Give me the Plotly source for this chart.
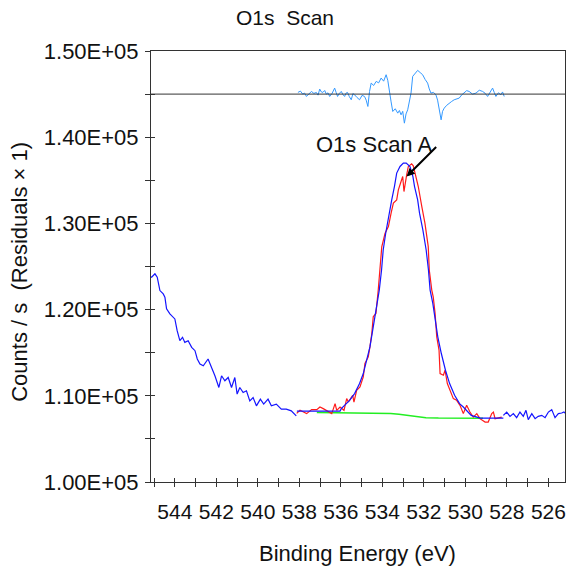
import plotly.graph_objects as go

# ---------------- data ----------------
# measured spectrum outside the fit region (binding energy eV, counts/s)
data_left_ev = [545.3, 545.12, 544.96, 544.85, 544.72, 544.56, 544.48, 544.40, 544.24, 544.00,
                543.89, 543.76, 543.63, 543.52, 543.36, 543.19, 543.03, 542.92, 542.79, 542.63,
                542.40, 542.23, 542.07, 541.88, 541.75, 541.59, 541.43, 541.27, 541.11, 541.00,
                540.87, 540.71, 540.55, 540.39, 540.23, 540.07, 539.88, 539.72, 539.51, 539.35,
                539.11, 538.87, 538.63, 538.39, 538.15]
data_left_cps = [124000, 123756, 124151, 123756, 122209, 121825, 121430, 120081, 119500, 118918,
                 117558, 116395, 116779, 116197, 116395, 115616, 115232, 114267, 113686, 113488,
                 114267, 113290, 112325, 110965, 112325, 111744, 112128, 110965, 112128, 110197,
                 110965, 110383, 110581, 109418, 109802, 108837, 109616, 109034, 109616, 108837,
                 109034, 108453, 108453, 108255, 107674]

data_right_ev = [528.17, 528.01, 527.85, 527.69, 527.53, 527.37, 527.21, 527.08, 526.97, 526.80,
                 526.64, 526.49, 526.32, 526.16, 526.00, 525.84, 525.68, 525.52, 525.36, 525.25, 525.10]
data_right_cps = [107732, 108116, 107616, 107930, 107465, 108116, 107616, 108314, 107232, 107930,
                  107348, 107616, 107732, 107465, 108116, 108395, 107465, 107930, 108000, 108116, 107800]

# fit envelope inside the region
env_ev = [538.12, 536.04, 535.98, 535.82, 535.58, 535.34, 535.10, 534.92, 534.76, 534.60,
          534.44, 534.28, 534.15, 534.04, 533.96, 533.84, 533.71, 533.55, 533.42, 533.31,
          533.15, 532.99, 532.85, 532.67, 532.53, 532.45, 532.30, 532.21, 532.05, 531.89,
          531.78, 531.70, 531.57, 531.45, 531.33, 531.16, 530.96, 530.76, 530.52, 530.28,
          530.10, 529.72, 529.29, 528.17]
env_cps = [108232, 108232, 108511, 108895, 109476, 110255, 111418, 112581, 114128, 115674,
           118000, 120325, 122267, 124593, 126918, 128860, 130791, 132732, 134279, 135837,
           136605, 137000, 137000, 136605, 135442, 134279, 132732, 131186, 129244, 126918,
           124593, 122267, 120720, 118779, 116837, 114907, 112965, 111418, 110058, 109093,
           108697, 107732, 107418, 107418]

# component "O1s Scan A"
comp_ev = [538.13, 537.97, 537.65, 537.41, 537.16, 537.01, 536.85, 536.61, 536.44, 536.28,
           536.20, 536.04, 535.85, 535.72, 535.64, 535.53, 535.43, 535.37, 535.24, 535.08,
           534.92, 534.84, 534.68, 534.60, 534.51, 534.44, 534.31, 534.20, 534.14, 534.03,
           533.87, 533.71, 533.58, 533.47, 533.31, 533.23, 533.10, 533.02, 532.96, 532.91,
           532.83, 532.75, 532.59, 532.51, 532.43, 532.27, 532.10, 531.95, 531.79, 531.74,
           531.62, 531.55, 531.46, 531.38, 531.27, 531.22, 531.06, 530.98, 530.87, 530.74,
           530.58, 530.42, 530.26, 530.10, 529.94, 529.78, 529.62, 529.45, 529.30, 529.05,
           528.90, 528.73, 528.65, 528.57, 528.41, 528.25]
comp_cps = [107965, 108314, 107930, 108395, 108395, 108697, 108511, 108116, 107930, 109093,
            108314, 108697, 108314, 109674, 109279, 109674, 110058, 109279, 110639, 111023,
            112186, 113744, 114511, 115674, 117232, 119163, 119558, 122267, 124360, 127267,
            128860, 129628, 131186, 132349, 132732, 133895, 134860, 135442, 133697, 134674,
            135639, 136605, 136918, 136686, 135837, 134279, 131953, 130023, 127302, 124593,
            122267, 121488, 119558, 116837, 115290, 112581, 112383, 112965, 111418, 110639,
            109674, 109476, 108895, 107930, 108895, 108116, 107534, 107930, 107348, 106953,
            106953, 107930, 108116, 107348, 107465, 107534]

# background
bg_ev = [537.16, 535.0, 534.2, 533.6, 533.2, 532.9, 532.6, 532.3, 531.9, 531.3, 529.15]
bg_cps = [108050, 108040, 108000, 107950, 107850, 107760, 107650, 107540, 107460, 107420, 107400]

# residuals (plotted about an offset, scale x1)
resid_offset = 145000
resid_ev = [538.07, 537.95, 537.84, 537.75, 537.66, 537.54, 537.42, 537.30, 537.18, 537.10,
            537.02, 536.94, 536.87, 536.78, 536.70, 536.62, 536.54, 536.42, 536.30, 536.23,
            536.16, 536.07, 535.98, 535.90, 535.82, 535.75, 535.68, 535.59, 535.50, 535.42,
            535.34, 535.22, 535.10, 534.98, 534.86, 534.78, 534.70, 534.62, 534.54, 534.42,
            534.30, 534.18, 534.06, 533.94, 533.82, 533.74, 533.66, 533.58, 533.50, 533.38,
            533.26, 533.18, 533.10, 533.02, 532.94, 532.86, 532.78, 532.70, 532.62, 532.54,
            532.42, 532.30, 532.18, 532.06, 531.94, 531.82, 531.74, 531.66, 531.54, 531.42,
            531.34, 531.26, 531.17, 531.10, 531.02, 530.90, 530.78, 530.66, 530.54, 530.42,
            530.30, 530.18, 530.05, 529.94, 529.82, 529.66, 529.49, 529.33, 529.17, 529.05,
            528.93, 528.81, 528.69, 528.61, 528.53, 528.41, 528.29, 528.21, 528.13]
resid_val = [194, 350, 0, 120, -271, 40, 310, 80, 194, -120,
             581, 250, 194, 420, 0, 150, -271, 100, 698, 200,
             -271, 90, 310, -60, -271, 120, 194, -300, -659, 60,
             -78, -400, -659, -150, -271, -700, -1434, 300, 1279, 1000,
             1473, 1300, 1860, 1500, 2248, 1600, 116, -900, -2016, -1700,
             -2209, -1900, -2403, -2000, -3372, -2300, -1822, -800, 116, 2054,
             2400, 2752, 2500, 2248, 1700, 1279, 600, 116, 200, -78,
             -700, -1628, -2985, -2000, -1628, -1300, -1047, -850, -659, -550,
             -465, -100, 116, 400, 310, 0, 116, 450, 310, 100,
             -271, 300, 698, 200, -271, 150, -78, 250, -271]

x_range = [545.15, 525.2]
y_range = [100000, 150000]
x_tickvals = [544, 542, 540, 538, 536, 534, 532, 530, 528, 526]
y_tickvals = [100000, 110000, 120000, 130000, 140000, 150000]
y_ticktext = ["1.00E+05", "1.10E+05", "1.20E+05", "1.30E+05", "1.40E+05", "1.50E+05"]

arrow_ev, arrow_cps = 532.83, 135442
label_ev, label_cps = 531.46, 139100

FONT = "Liberation Sans, Arial, sans-serif"
BLUE = "#1414ff"
RED = "#ff1a1a"
GREEN = "#22ee22"
RESID = "#3399ff"
AX = "#333333"

fig = go.Figure()

line_kw = dict(mode="lines", showlegend=False, hoverinfo="skip")
fig.add_trace(go.Scatter(x=bg_ev, y=bg_cps, line=dict(color=GREEN, width=1.5), **line_kw))
fig.add_trace(go.Scatter(x=comp_ev, y=comp_cps, line=dict(color=RED, width=1.2), **line_kw))
fig.add_trace(go.Scatter(x=data_left_ev, y=data_left_cps, line=dict(color=BLUE, width=1.2), **line_kw))
fig.add_trace(go.Scatter(x=env_ev, y=env_cps, line=dict(color=BLUE, width=1.2), **line_kw))
fig.add_trace(go.Scatter(x=data_right_ev, y=data_right_cps, line=dict(color=BLUE, width=1.2), **line_kw))
fig.add_trace(go.Scatter(x=resid_ev, y=[resid_offset + r for r in resid_val],
                         line=dict(color=RESID, width=1), **line_kw))
# dummy trace to realise overlay axes (inside ticks)
fig.add_trace(go.Scatter(x=[None], y=[None], xaxis="x2", yaxis="y2", showlegend=False,
                         hoverinfo="skip", mode="markers"))

fig.add_shape(type="line", xref="paper", x0=0, x1=1, yref="y", y0=resid_offset, y1=resid_offset,
              line=dict(color=AX, width=1))

fig.update_layout(
    width=568, height=569,
    margin=dict(l=151, r=3, t=51, b=87),
    paper_bgcolor="white", plot_bgcolor="white",
    font=dict(family=FONT, color="#111111"),
    xaxis=dict(range=x_range, tickvals=x_tickvals, ticks="outside", ticklen=4, tickwidth=1,
               tickcolor=AX, minor=dict(dtick=1, tick0=0, ticks="outside", ticklen=4, tickcolor=AX),
               showline=True, linecolor=AX, linewidth=1, mirror=True, showgrid=False, zeroline=False,
               tickfont=dict(size=21, family=FONT, color="#111111"), ticklabelstandoff=7),
    yaxis=dict(range=y_range, tickvals=y_tickvals, ticktext=y_ticktext, ticks="outside", ticklen=5,
               tickwidth=1, tickcolor=AX,
               minor=dict(dtick=5000, tick0=0, ticks="outside", ticklen=5, tickcolor=AX),
               showline=True, linecolor=AX, linewidth=1, mirror=True, showgrid=False, zeroline=False,
               tickfont=dict(size=22, family=FONT, color="#111111"), ticklabelstandoff=2),
    xaxis2=dict(range=x_range, overlaying="x", anchor="y2", side="bottom", tickvals=x_tickvals,
                ticks="inside", ticklen=4, tickcolor=AX,
                minor=dict(dtick=1, tick0=0, ticks="inside", ticklen=4, tickcolor=AX),
                showticklabels=False, showline=False, showgrid=False, zeroline=False),
    yaxis2=dict(range=y_range, overlaying="y", anchor="x2", side="left", tickvals=y_tickvals,
                ticks="inside", ticklen=4, tickcolor=AX,
                minor=dict(dtick=5000, tick0=0, ticks="inside", ticklen=4, tickcolor=AX),
                showticklabels=False, showline=False, showgrid=False, zeroline=False),
)

fig.add_annotation(text="O1s\u00a0 Scan", xref="paper", yref="paper", x=0.3237, y=1.0778,
                   xanchor="center", yanchor="middle", showarrow=False,
                   font=dict(size=21, family=FONT, color="#111111"))
fig.add_annotation(text="Binding Energy (eV)", xref="paper", yref="paper", x=0.4976, y=-0.167,
                   xanchor="center", yanchor="middle", showarrow=False,
                   font=dict(size=22, family=FONT, color="#111111"))
fig.add_annotation(text="Counts / s\u00a0 (Residuals \u00d7 1)", xref="paper", yref="paper",
                   x=-0.3164, y=0.4878, xanchor="center", yanchor="middle", textangle=-90,
                   showarrow=False, font=dict(size=22, family=FONT, color="#111111"))
fig.add_annotation(text="O1s Scan A", xref="x", yref="y", x=label_ev, y=label_cps,
                   xanchor="right", yanchor="middle", showarrow=False,
                   font=dict(size=22, family=FONT, color="#111111"))
fig.add_annotation(text="", xref="x", yref="y", x=arrow_ev, y=arrow_cps, ax=31, ay=-31,
                   showarrow=True, arrowhead=2, arrowsize=0.8, arrowwidth=2, arrowcolor="#000000")

fig.write_html("out.html")
